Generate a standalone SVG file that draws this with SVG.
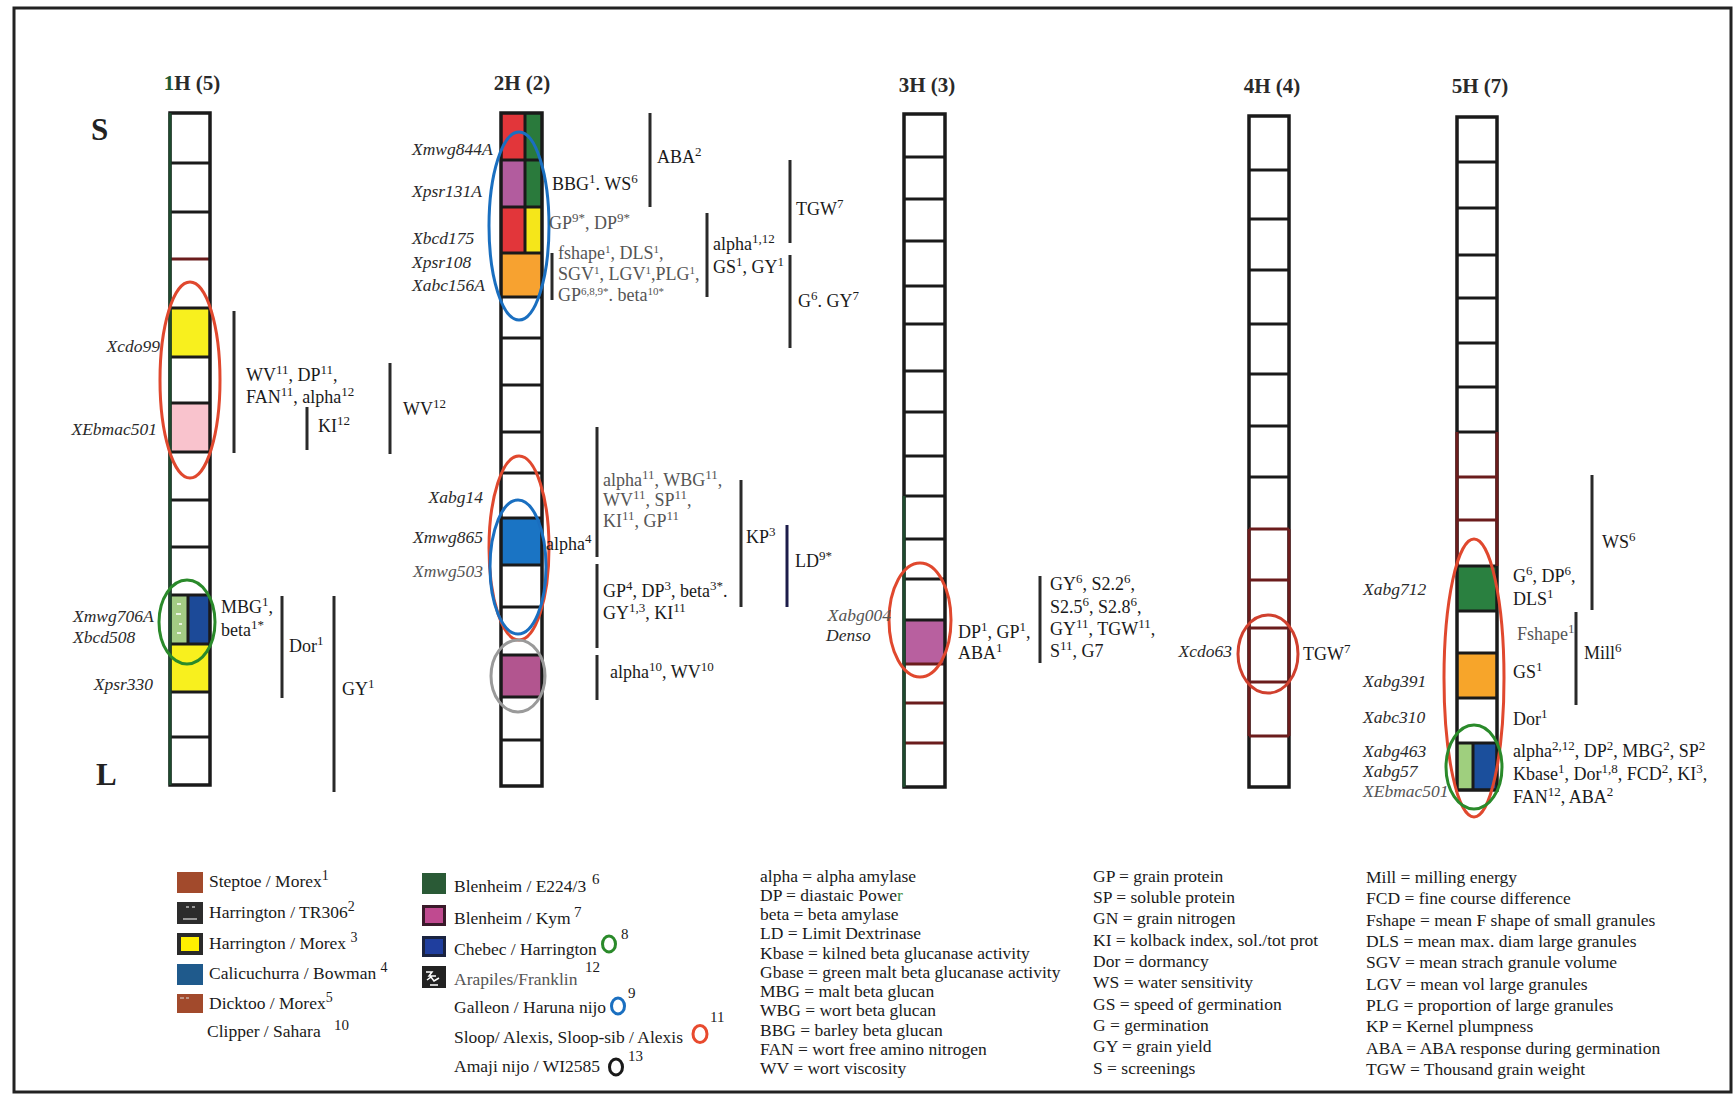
<svg xmlns="http://www.w3.org/2000/svg" width="1736" height="1096" viewBox="0 0 1736 1096">
<style>
.ch{fill:none;stroke:#1a1a1a;stroke-width:3.5}
.dv{fill:none;stroke:#1a1a1a;stroke-width:3}
.dr{fill:none;stroke:#6b1c1c;stroke-width:3}
.br{fill:none;stroke:#2a2a2a;stroke-width:3}
.el{fill:none;stroke-width:3}
.a{font-family:"Liberation Serif","Times New Roman",serif;font-size:18px;fill:#1a1a1a}
.m{font-family:"Liberation Serif","Times New Roman",serif;font-style:italic;font-size:17.5px;fill:#2a2a2a}
.s{font-size:13px}
.t{font-size:11px}
.s2{font-family:"Liberation Serif","Times New Roman",serif;font-size:15px;fill:#1a1a1a}
.h{font-family:"Liberation Serif","Times New Roman",serif;font-weight:bold;font-size:21px;fill:#2a2a2a;text-anchor:middle}
.big{font-family:"Liberation Serif","Times New Roman",serif;font-weight:bold;font-size:31px;fill:#222}
.lg{font-family:"Liberation Serif","Times New Roman",serif;font-size:17.5px;fill:#1a1a1a}
.g{fill:#555}
.end{text-anchor:end}
</style>
<rect x="0" y="0" width="1736" height="1096" fill="#fff"/>
<rect x="14" y="8" width="1717" height="1084" fill="none" stroke="#222" stroke-width="3"/>

<g id="chr1H">
<text class="h" x="192" y="90"><tspan fill="#1e5a30">1</tspan>H (5)</text>
<text class="big" x="91" y="140">S</text>
<text class="big" x="96" y="785">L</text>
<rect x="170" y="113" width="40" height="672" fill="#fff"/>
<rect x="170" y="308" width="40" height="49" fill="#f8f01e"/>
<rect x="170" y="403" width="40" height="49" fill="#f9c3cd"/>
<rect x="170" y="595" width="18" height="49" fill="#a3cc84"/>
<rect x="188" y="595" width="22" height="49" fill="#1c4a98"/>
<path d="M177 604h4M176 614h5M179 624h3M177 633h4" stroke="#fff" stroke-width="1.5"/>
<rect x="170" y="644" width="40" height="48" fill="#f8f01e"/>
<path class="dv" d="M170 163H210M170 212H210M170 308H210M170 357H210M170 403H210M170 452H210M170 500H210M170 547H210M170 595H210M170 644H210M170 692H210M170 737H210M188 595V644"/>
<path class="dr" d="M170 259H210"/>
<rect class="ch" x="170" y="113" width="40" height="672"/>
<path d="M170 113V785" stroke="#1e4a2e" stroke-width="3"/>
<ellipse class="el" cx="190" cy="380" rx="30" ry="98" stroke="#e0482e"/>
<ellipse class="el" cx="187" cy="622" rx="28" ry="42" stroke="#2a8a2a"/>
<text class="m end" x="160" y="352" fill="#444">Xcdo99</text>
<text class="m end" x="157" y="435">XEbmac501</text>
<text class="m" x="73" y="622">Xmwg706A</text>
<text class="m" x="73" y="643">Xbcd508</text>
<text class="m end" x="153" y="690">Xpsr330</text>
<text class="a" x="246" y="381">WV<tspan class="s" dy="-7">11</tspan><tspan dy="7">, DP</tspan><tspan class="s" dy="-7">11</tspan><tspan dy="7">,</tspan></text>
<text class="a" x="246" y="403">FAN<tspan class="s" dy="-7">11</tspan><tspan dy="7">, alpha</tspan><tspan class="s" dy="-7">12</tspan></text>
<text class="a" x="318" y="432">KI<tspan class="s" dy="-7">12</tspan></text>
<text class="a" x="403" y="415">WV<tspan class="s" dy="-7">12</tspan></text>
<text class="a" x="221" y="613">MBG<tspan class="s" dy="-7">1</tspan><tspan dy="7">,</tspan></text>
<text class="a" x="221" y="636">beta<tspan class="s" dy="-7">1*</tspan></text>
<text class="a" x="289" y="652">Dor<tspan class="s" dy="-7">1</tspan></text>
<text class="a" x="342" y="695">GY<tspan class="s" dy="-7">1</tspan></text>
</g>

<g id="chr2H">
<text class="h" x="522" y="90">2H (2)</text>
<rect x="501" y="113" width="41" height="673" fill="#fff"/>
<rect x="501" y="113" width="24" height="47" fill="#e2363a"/>
<rect x="525" y="113" width="17" height="94" fill="#2a7a3c"/>
<rect x="501" y="160" width="24" height="47" fill="#b25c9e"/>
<rect x="501" y="207" width="24" height="46" fill="#e2363a"/>
<rect x="525" y="207" width="17" height="46" fill="#f5e61a"/>
<rect x="501" y="253" width="41" height="44" fill="#f7a230"/>
<rect x="501" y="518" width="41" height="47" fill="#1a74c4"/>
<rect x="501" y="655" width="41" height="42" fill="#b2558f"/>
<path class="dv" d="M501 160H542M501 207H542M501 253H542M501 297H542M501 338H542M501 385H542M501 432H542M501 473H542M501 518H542M501 565H542M501 607H542M501 655H542M501 697H542M501 740H542M525 113V253"/>
<rect class="ch" x="501" y="113" width="41" height="673"/>
<ellipse class="el" cx="519" cy="226" rx="30" ry="94" stroke="#1a6fc0"/>
<ellipse class="el" cx="519" cy="548" rx="30" ry="92" stroke="#e0482e"/>
<ellipse class="el" cx="518" cy="567" rx="28" ry="67" stroke="#1a6fc0"/>
<ellipse class="el" cx="518" cy="676" rx="27" ry="36" stroke="#9a9a9a"/>
<text class="m" x="412" y="155">Xmwg844A</text>
<text class="m" x="412" y="197">Xpsr131A</text>
<text class="m" x="412" y="244">Xbcd175</text>
<text class="m" x="412" y="268">Xpsr108</text>
<text class="m" x="412" y="291">Xabc156A</text>
<text class="a" x="552" y="190">BBG<tspan class="s" dy="-7">1</tspan><tspan dy="7">. WS</tspan><tspan class="s" dy="-7">6</tspan></text>
<text class="a" x="657" y="163">ABA<tspan class="s" dy="-7">2</tspan></text>
<text class="a g" x="549" y="229">GP<tspan class="s" dy="-7">9*</tspan><tspan dy="7">, DP</tspan><tspan class="s" dy="-7">9*</tspan></text>
<text class="a g" x="558" y="259" font-size="15.5">fshape<tspan class="t" dy="-6">1</tspan><tspan dy="6">, DLS</tspan><tspan class="t" dy="-6">1</tspan><tspan dy="6">,</tspan></text>
<text class="a g" x="558" y="280" font-size="15.5">SGV<tspan class="t" dy="-6">1</tspan><tspan dy="6">, LGV</tspan><tspan class="t" dy="-6">1</tspan><tspan dy="6">,PLG</tspan><tspan class="t" dy="-6">1</tspan><tspan dy="6">,</tspan></text>
<text class="a g" x="558" y="301" font-size="15.5">GP<tspan class="t" dy="-6">6,8,9*</tspan><tspan dy="6">. beta</tspan><tspan class="t" dy="-6">10*</tspan></text>
<text class="a" x="713" y="250" font-size="17">alpha<tspan class="s" dy="-7">1,12</tspan></text>
<text class="a" x="713" y="273">GS<tspan class="s" dy="-7">1</tspan><tspan dy="7">, GY</tspan><tspan class="s" dy="-7">1</tspan></text>
<text class="a" x="796" y="215">TGW<tspan class="s" dy="-7">7</tspan></text>
<text class="a" x="798" y="307">G<tspan class="s" dy="-7">6</tspan><tspan dy="7">. GY</tspan><tspan class="s" dy="-7">7</tspan></text>
<text class="m end" x="483" y="503">Xabg14</text>
<text class="m end" x="483" y="543">Xmwg865</text>
<text class="m end g" x="483" y="577">Xmwg503</text>
<text class="a" x="546" y="550" font-size="16">alpha<tspan class="s" dy="-7">4</tspan></text>
<text class="a g" x="603" y="486">alpha<tspan class="s" dy="-7">11</tspan><tspan dy="7">, WBG</tspan><tspan class="s" dy="-7">11</tspan><tspan dy="7">,</tspan></text>
<text class="a g" x="603" y="506">WV<tspan class="s" dy="-7">11</tspan><tspan dy="7">, SP</tspan><tspan class="s" dy="-7">11</tspan><tspan dy="7">,</tspan></text>
<text class="a g" x="603" y="527">KI<tspan class="s" dy="-7">11</tspan><tspan dy="7">, GP</tspan><tspan class="s" dy="-7">11</tspan></text>
<text class="a" x="603" y="597">GP<tspan class="s" dy="-7">4</tspan><tspan dy="7">, DP</tspan><tspan class="s" dy="-7">3</tspan><tspan dy="7">, beta</tspan><tspan class="s" dy="-7">3*</tspan><tspan dy="7">.</tspan></text>
<text class="a" x="603" y="619">GY<tspan class="s" dy="-7">1,3</tspan><tspan dy="7">, KI</tspan><tspan class="s" dy="-7">11</tspan></text>
<text class="a" x="746" y="543">KP<tspan class="s" dy="-7">3</tspan></text>
<text class="a" x="795" y="567">LD<tspan class="s" dy="-7">9*</tspan></text>
<text class="a" x="610" y="678">alpha<tspan class="s" dy="-7">10</tspan><tspan dy="7">, WV</tspan><tspan class="s" dy="-7">10</tspan></text>
</g>

<g id="chr3H">
<text class="h" x="927" y="92">3H (3)</text>
<rect x="904" y="114" width="41" height="673" fill="#fff"/>
<rect x="904" y="620" width="41" height="44" fill="#b8609f"/>
<path class="dv" d="M904 157H945M904 199H945M904 241H945M904 286H945M904 324H945M904 371H945M904 412H945M904 456H945M904 496H945M904 539H945M904 579H945M904 620H945"/>
<path class="dr" d="M904 664H945M904 703H945M904 743H945"/>
<rect class="ch" x="904" y="114" width="41" height="673"/>
<path d="M904 496V787" stroke="#1e4a2e" stroke-width="3"/>
<ellipse class="el" cx="920" cy="620" rx="31" ry="57" stroke="#e0482e"/>
<text class="m end g" x="891" y="621">Xabg004</text>
<text class="m" x="826" y="641">Denso</text>
<text class="a" x="958" y="638">DP<tspan class="s" dy="-7">1</tspan><tspan dy="7">, GP</tspan><tspan class="s" dy="-7">1</tspan><tspan dy="7">,</tspan></text>
<text class="a" x="958" y="659">ABA<tspan class="s" dy="-7">1</tspan></text>
<text class="a" x="1050" y="590">GY<tspan class="s" dy="-7">6</tspan><tspan dy="7">, S2.2</tspan><tspan class="s" dy="-7">6</tspan><tspan dy="7">,</tspan></text>
<text class="a" x="1050" y="613">S2.5<tspan class="s" dy="-7">6</tspan><tspan dy="7">, S2.8</tspan><tspan class="s" dy="-7">6</tspan><tspan dy="7">,</tspan></text>
<text class="a" x="1050" y="635">GY<tspan class="s" dy="-7">11</tspan><tspan dy="7">, TGW</tspan><tspan class="s" dy="-7">11</tspan><tspan dy="7">,</tspan></text>
<text class="a" x="1050" y="657">S<tspan class="s" dy="-7">11</tspan><tspan dy="7">, G7</tspan></text>
</g>

<g id="chr4H">
<text class="h" x="1272" y="93">4H (4)</text>
<rect x="1249" y="116" width="40" height="671" fill="#fff"/>
<path class="dv" d="M1249 170H1289M1249 219H1289M1249 270H1289M1249 324H1289M1249 374H1289M1249 426H1289M1249 477H1289"/>
<rect class="ch" x="1249" y="116" width="40" height="671"/>
<path class="dr" d="M1249 529H1289M1249 580H1289M1249 628H1289M1249 682H1289M1249 736H1289M1249 529V736M1289 529V736"/>
<ellipse class="el" cx="1268" cy="654" rx="30" ry="39" stroke="#d0402e"/>
<text class="m end" x="1232" y="657">Xcdo63</text>
<text class="a" x="1303" y="660">TGW<tspan class="s" dy="-7">7</tspan></text>
</g>

<g id="chr5H">
<text class="h" x="1480" y="93">5H (7)</text>
<rect x="1457" y="117" width="40" height="673" fill="#fff"/>
<rect x="1457" y="566" width="40" height="45" fill="#2a8040"/>
<rect x="1457" y="653" width="40" height="45" fill="#f7a52a"/>
<rect x="1457" y="743" width="16" height="47" fill="#9fcf7e"/>
<rect x="1473" y="743" width="24" height="47" fill="#1b4f9c"/>
<path class="dv" d="M1457 162H1497M1457 208H1497M1457 255H1497M1457 298H1497M1457 343H1497M1457 387H1497M1457 432H1497M1457 566H1497M1457 611H1497M1457 653H1497M1457 698H1497M1457 743H1497M1473 743V790"/>
<rect class="ch" x="1457" y="117" width="40" height="673"/>
<path class="dr" d="M1457 477H1497M1457 520H1497M1457 432V566M1497 432V566"/>
<ellipse class="el" cx="1474" cy="678" rx="30" ry="139" stroke="#e0482e"/>
<ellipse class="el" cx="1474" cy="767" rx="28" ry="42" stroke="#2a8a2a"/>
<text class="m" x="1363" y="595">Xabg712</text>
<text class="m" x="1363" y="687">Xabg391</text>
<text class="m" x="1363" y="723">Xabc310</text>
<text class="m" x="1363" y="757">Xabg463</text>
<text class="m" x="1363" y="777">Xabg57</text>
<text class="m g" x="1363" y="797">XEbmac501</text>
<text class="a" x="1513" y="582">G<tspan class="s" dy="-7">6</tspan><tspan dy="7">, DP</tspan><tspan class="s" dy="-7">6</tspan><tspan dy="7">,</tspan></text>
<text class="a" x="1513" y="605">DLS<tspan class="s" dy="-7">1</tspan></text>
<text class="a" x="1602" y="548">WS<tspan class="s" dy="-7">6</tspan></text>
<text class="a g" x="1517" y="640" font-size="16">Fshape<tspan class="s" dy="-7">1</tspan></text>
<text class="a" x="1584" y="659">Mill<tspan class="s" dy="-7">6</tspan></text>
<text class="a" x="1513" y="678">GS<tspan class="s" dy="-7">1</tspan></text>
<text class="a" x="1513" y="725">Dor<tspan class="s" dy="-7">1</tspan></text>
<text class="a" x="1513" y="757">alpha<tspan class="s" dy="-7">2,12</tspan><tspan dy="7">, DP</tspan><tspan class="s" dy="-7">2</tspan><tspan dy="7">, MBG</tspan><tspan class="s" dy="-7">2</tspan><tspan dy="7">, SP</tspan><tspan class="s" dy="-7">2</tspan></text>
<text class="a" x="1513" y="780">Kbase<tspan class="s" dy="-7">1</tspan><tspan dy="7">, Dor</tspan><tspan class="s" dy="-7">1,8</tspan><tspan dy="7">, FCD</tspan><tspan class="s" dy="-7">2</tspan><tspan dy="7">, KI</tspan><tspan class="s" dy="-7">3</tspan><tspan dy="7">,</tspan></text>
<text class="a" x="1513" y="803">FAN<tspan class="s" dy="-7">12</tspan><tspan dy="7">, ABA</tspan><tspan class="s" dy="-7">2</tspan></text>
</g>

<g id="connectors">
<path class="br" d="M234 311V453M307 407V450M390 363V454M282 596V698M334 596V792"/>
<path class="br" d="M650 113V207M552 253V300M707 213V297M790 160V243M790 255V348M597 427V557M597 564V648M741 480V607M597 655V700"/>
<path d="M787 525V607" stroke="#1c1c4a" stroke-width="3"/>
<path class="br" d="M1040 576V663"/>
<path class="br" d="M1592 475V610M1576 612V705"/>
</g>

<g id="legend-crosses">
<rect x="177" y="872" width="26" height="21" fill="#a24a2c"/>
<text class="lg" x="209" y="887">Steptoe / Morex<tspan dy="-7" font-size="14">1</tspan></text>
<rect x="177" y="902" width="26" height="22" fill="#2c2c2c"/>
<path d="M183 919h14M186 907h3M192 907h3" stroke="#bbb" stroke-width="1.5"/>
<text class="lg" x="209" y="918">Harrington / TR306<tspan dy="-7" font-size="14">2</tspan></text>
<rect x="177" y="933" width="26" height="22" fill="#2a2a2a"/>
<rect x="181" y="937" width="18" height="14" fill="#ffef00"/>
<text class="lg" x="209" y="949">Harrington / Morex <tspan dy="-7" font-size="14">3</tspan></text>
<rect x="177" y="964" width="26" height="21" fill="#1f5a8c"/>
<text class="lg" x="209" y="979">Calicuchurra / Bowman <tspan dy="-7" font-size="14">4</tspan></text>
<rect x="177" y="994" width="26" height="19" fill="#a24a2c"/>
<path d="M180 998h4M186 998h3" stroke="#ddd" stroke-width="1"/>
<text class="lg" x="209" y="1009">Dicktoo / Morex<tspan dy="-7" font-size="14">5</tspan></text>
<text class="lg" x="207" y="1037">Clipper / Sahara</text>
<text class="s2" x="334" y="1030">10</text>

<rect x="422" y="873" width="24" height="21" fill="#2a5a36"/>
<text class="lg" x="454" y="892">Blenheim / E224/3</text>
<text class="s2" x="592" y="884">6</text>
<rect x="422" y="905" width="24" height="21" fill="#3a1a2a"/>
<rect x="425" y="908" width="18" height="15" fill="#c04a90"/>
<text class="lg" x="454" y="924">Blenheim / Kym</text>
<text class="s2" x="574" y="917">7</text>
<rect x="422" y="936" width="24" height="21" fill="#1a2340"/>
<rect x="425" y="939" width="18" height="15" fill="#1f3e9e"/>
<text class="lg" x="454" y="955">Chebec / Harrington</text>
<ellipse class="el" cx="609" cy="944" rx="6.5" ry="8" stroke="#2a8a2a"/>
<text class="s2" x="621" y="939">8</text>
<rect x="422" y="966" width="24" height="22" fill="#222"/>
<path d="M426 972h6l-3 4h7M427 980l4-3 3 4 5-3M430 985h8" stroke="#fff" stroke-width="1.5" fill="none"/>
<text class="lg g" x="454" y="985">Arapiles/Franklin</text>
<text class="s2" x="585" y="972">12</text>
<text class="lg" x="454" y="1013" fill="#333">Galleon / Haruna nijo</text>
<ellipse class="el" cx="618" cy="1006" rx="6.5" ry="8" stroke="#1a6fc0"/>
<text class="s2" x="628" y="998">9</text>
<text class="lg" x="454" y="1043" fill="#333">Sloop/ Alexis, Sloop-sib / Alexis</text>
<ellipse class="el" cx="700" cy="1034" rx="7" ry="8.5" stroke="#e84a2e"/>
<text class="s2" x="710" y="1022">11</text>
<text class="lg" x="454" y="1072">Amaji nijo / WI2585</text>
<ellipse class="el" cx="616" cy="1067" rx="6.5" ry="8" stroke="#1a1a1a"/>
<text class="s2" x="628" y="1061">13</text>
</g>

<g id="legend-abbrev">
<text class="lg" x="760" y="882">alpha = alpha amylase</text>
<text class="lg" x="760" y="901">DP = diastaic Powe<tspan fill="#3a8a3a">r</tspan></text>
<text class="lg" x="760" y="920">beta = beta amylase</text>
<text class="lg" x="760" y="939">LD = Limit Dextrinase</text>
<text class="lg" x="760" y="959">Kbase = kilned beta glucanase activity</text>
<text class="lg" x="760" y="978">Gbase = green malt beta glucanase activity</text>
<text class="lg" x="760" y="997">MBG = malt beta glucan</text>
<text class="lg" x="760" y="1016">WBG =  wort beta glucan</text>
<text class="lg" x="760" y="1036">BBG =  barley beta glucan</text>
<text class="lg" x="760" y="1055">FAN =  wort free amino nitrogen</text>
<text class="lg" x="760" y="1074">WV =  wort viscosity</text>

<text class="lg" x="1093" y="882">GP = grain protein</text>
<text class="lg" x="1093" y="903">SP = soluble protein</text>
<text class="lg" x="1093" y="924">GN = grain nitrogen</text>
<text class="lg" x="1093" y="946">KI = kolback index, sol./tot prot</text>
<text class="lg" x="1093" y="967">Dor =  dormancy</text>
<text class="lg" x="1093" y="988">WS =  water sensitivity</text>
<text class="lg" x="1093" y="1010">GS =  speed of germination</text>
<text class="lg" x="1093" y="1031">G =  germination</text>
<text class="lg" x="1093" y="1052">GY =  grain yield</text>
<text class="lg" x="1093" y="1074">S = screenings</text>

<text class="lg" x="1366" y="883">Mill =  milling energy</text>
<text class="lg" x="1366" y="904">FCD = fine course difference</text>
<text class="lg" x="1366" y="926">Fshape =  mean F shape of small granules</text>
<text class="lg" x="1366" y="947">DLS =  mean max. diam large granules</text>
<text class="lg" x="1366" y="968">SGV =  mean strach granule volume</text>
<text class="lg" x="1366" y="990">LGV =  mean vol large granules</text>
<text class="lg" x="1366" y="1011">PLG =  proportion of large granules</text>
<text class="lg" x="1366" y="1032">KP = Kernel plumpness</text>
<text class="lg" x="1366" y="1054">ABA =  ABA response during germination</text>
<text class="lg" x="1366" y="1075">TGW = Thousand grain weight</text>
</g>
</svg>
